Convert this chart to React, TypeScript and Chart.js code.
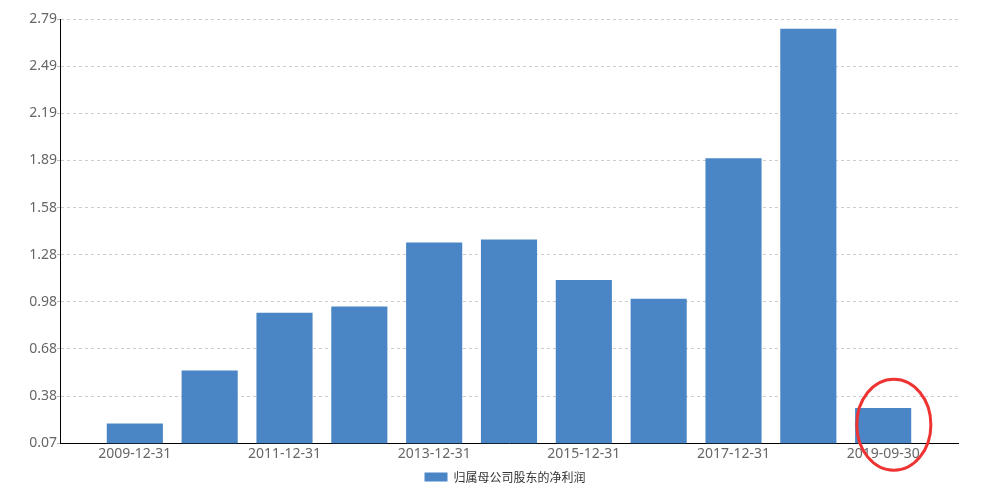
import React, { useEffect, useRef } from "react";
import { Chart, registerables } from "chart.js";

Chart.register(...registerables);

const categories = [
  "2009-12-31",
  "2010-12-31",
  "2011-12-31",
  "2012-12-31",
  "2013-12-31",
  "2014-12-31",
  "2015-12-31",
  "2016-12-31",
  "2017-12-31",
  "2018-12-31",
  "2019-09-30",
];

const netProfit = [0.2, 0.54, 0.91, 0.95, 1.36, 1.38, 1.12, 1.0, 1.9, 2.73, 0.3];

const seriesName = "归属母公司股东的净利润";

const yTickLabels = ["0.07", "0.38", "0.68", "0.98", "1.28", "1.58", "1.89", "2.19", "2.49", "2.79"];
const yMin = 0.0745;
const yMax = 2.7925;

const highlightIndex = 10;

const highlightPlugin = {
  id: "highlightEllipse",
  afterDraw(chart: any) {
    const meta = chart.getDatasetMeta(0);
    const bar = meta.data[highlightIndex];
    if (!bar) return;
    const { ctx, chartArea } = chart;
    const w = bar.width;
    const cx = bar.x + 0.19 * w;
    const cy = chartArea.bottom - 0.33 * w;
    const rx = 0.66 * w;
    const ry = 0.81 * w;
    ctx.save();
    ctx.beginPath();
    ctx.ellipse(cx, cy, rx, ry, 0, 0, Math.PI * 2);
    ctx.strokeStyle = "#ee3333";
    ctx.lineWidth = 3;
    ctx.stroke();
    ctx.restore();
  },
};

// centre the legend under the plot area (as in the reference) rather than the canvas
const legendShiftPlugin = {
  id: "legendShift",
  afterLayout(chart: any) {
    const legend = chart.legend;
    if (!legend) return;
    const area = chart.chartArea;
    const target = (area.left + area.right) / 2 - 4;
    const current = (legend.left + legend.right) / 2;
    const d = target - current;
    legend.left += d;
    legend.right += d;
  },
};

export default function App() {
  const canvasRef = useRef<HTMLCanvasElement | null>(null);

  useEffect(() => {
    document.body.style.margin = "0";
    const canvas = canvasRef.current;
    if (!canvas) return;
    const tickFont = { family: "'Noto Sans', sans-serif", size: 14 };
    const chart = new Chart(canvas, {
      type: "bar",
      data: {
        datasets: [
          {
            label: seriesName,
            data: netProfit.map((v, i) => ({ x: i + 1, y: v })),
            backgroundColor: "#4a86c5",
            borderWidth: 0,
            categoryPercentage: 1,
            barPercentage: 0.75,
          },
        ],
      },
      options: {
        responsive: false,
        animation: false,
        layout: { padding: { left: 20, right: 29, top: 19, bottom: 4 } },
        plugins: {
          tooltip: { enabled: false },
          legend: {
            position: "bottom",
            labels: {
              boxWidth: 23,
              boxHeight: 9,
              padding: 7,
              color: "#333",
              font: { family: "'Noto Sans CJK SC', sans-serif", size: 12 },
            },
          },
        },
        scales: {
          x: {
            type: "linear",
            offset: false,
            min: 0,
            max: categories.length + 1,
            afterBuildTicks: (scale: any) => {
              scale.ticks = categories
                .map((_, i) => ({ value: i + 1 }))
                .filter((_, i) => i % 2 === 0);
            },
            grid: { display: false, drawTicks: false },
            border: { display: true, color: "#000", width: 1 },
            ticks: {
              autoSkip: false,
              maxRotation: 0,
              padding: 2,
              color: "#666",
              font: tickFont,
              callback: (value: any) => categories[Math.round(Number(value)) - 1] ?? "",
            },
          },
          y: {
            type: "linear",
            min: yMin,
            max: yMax,
            afterBuildTicks: (scale: any) => {
              scale.ticks = yTickLabels.map((_, i) => ({
                value: yMin + ((yMax - yMin) * i) / (yTickLabels.length - 1),
              }));
            },
            afterFit: (scale: any) => {
              scale.width = 40;
            },
            grid: { color: "#cccccc", lineWidth: 1, tickLength: 3, tickColor: "#bbbbbb" },
            border: { display: true, color: "#000", width: 1, dash: [3, 3] },
            ticks: {
              padding: 0,
              color: "#666",
              font: tickFont,
              callback: (_v: any, i: number) => yTickLabels[i],
            },
          },
        },
      },
      plugins: [highlightPlugin, legendShiftPlugin],
    } as any);
    return () => chart.destroy();
  }, []);

  return (
    <div style={{ width: 987, height: 497 }}>
      <canvas ref={canvasRef} width={987} height={497} />
    </div>
  );
}
